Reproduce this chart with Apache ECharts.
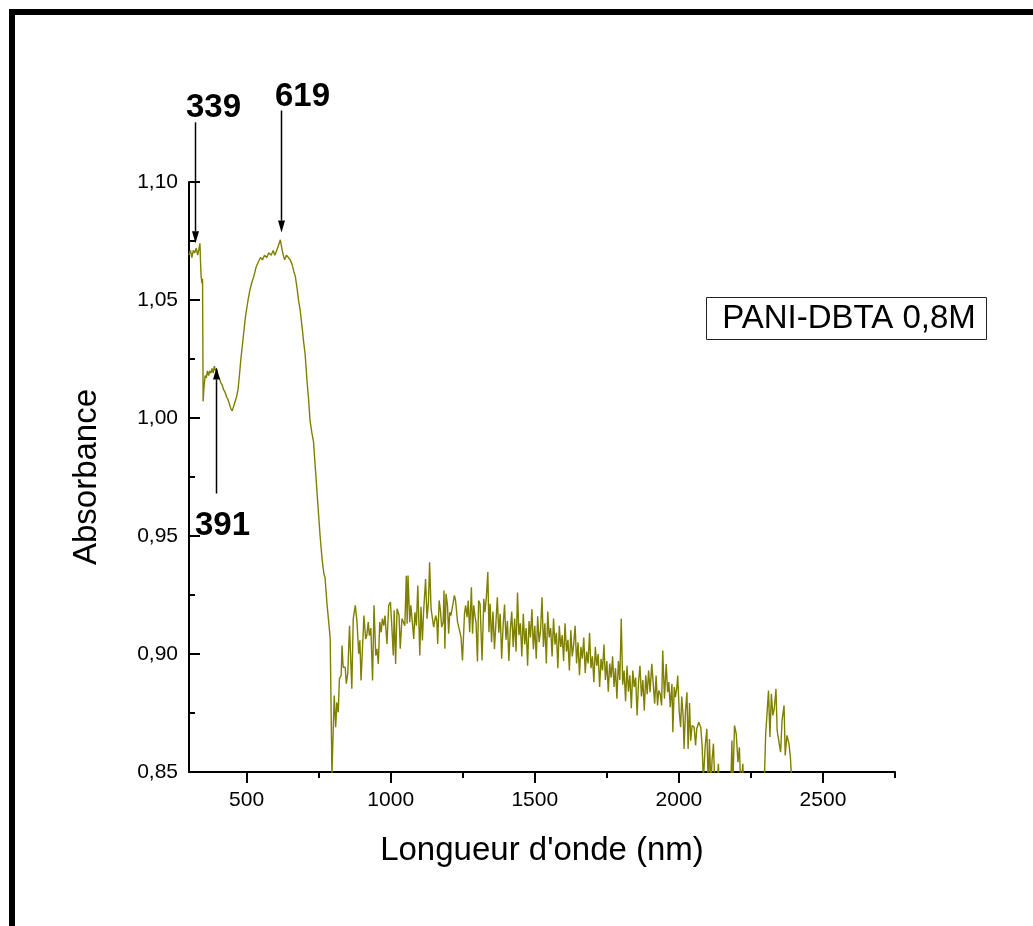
<!DOCTYPE html>
<html>
<head>
<meta charset="utf-8">
<script src="https://cdn.jsdelivr.net/npm/echarts@6/dist/echarts.min.js"></script>
<style>
html,body{margin:0;padding:0;background:#fff;}
#chart{width:1033px;height:926px;}
</style>
</head>
<body>
<div id="chart"></div>
<script>
// ---- data (wavelength nm, absorbance) ----
const smoothPart = [
[300,1.069],[305,1.071],[310,1.068],[315,1.071],[320,1.070],[325,1.072],[330,1.069],[335,1.072],[338,1.074],[340,1.066],
[342,1.060],[345,1.057],[347,1.059],[349,1.007],[352,1.013],[356,1.018],[360,1.017],[364,1.020],[368,1.018],[372,1.020],
[376,1.019],[380,1.021],[384,1.019],[388,1.022],[392,1.020],[396,1.021],[400,1.018],[405,1.017],[410,1.015],[415,1.014],
[420,1.012],[425,1.011],[430,1.009],[435,1.008],[440,1.006],[445,1.004],[450,1.003],[455,1.005],[460,1.007],[465,1.009],
[470,1.012],[475,1.018],[480,1.025],[488,1.034],[496,1.043],[505,1.050],[511,1.054],[517,1.057],[525,1.060],[533,1.064],
[540,1.066],[548,1.068],[555,1.067],[562,1.069],[570,1.068],[577,1.070],[585,1.069],[592,1.071],[598,1.069],[604,1.071],
[610,1.073],[617,1.0755],[622,1.072],[627,1.069],[632,1.067],[638,1.069],[645,1.068],[651,1.067],[658,1.065],[664,1.062],
[669,1.060],[675,1.055],[680,1.050],[686,1.0455],[693,1.038],[698,1.032],[703,1.027],[710,1.015],[715,1.008],[720,0.999],
[726,0.994],[732,0.990],[740,0.976],[748,0.962],[755,0.950],[762,0.940],[768,0.934],[772,0.9325],[779,0.921],[786,0.912],
[790,0.9066],[796,0.849]
];
const noisyPartA = [
[804,0.8824],[809,0.869],[813,0.8795],[818,0.8753],[822,0.8896],[828,0.8909],[831,0.9036],[835,0.8944],[842,0.8944],[846,0.8874],
[851,0.8918],[857,0.912],[865,0.8853],[870,0.915],[877,0.9206],[883,0.9135],[889,0.9001],[893,0.9058],[897,0.8888],[904,0.9078],
[907,0.9163],[913,0.9064],[917,0.9078],[922,0.9135],[926,0.9078],[931,0.911],[937,0.8888],[942,0.9206],[948,0.8994],[952,0.9022],
[957,0.8958],[962,0.9135],[967,0.9092],[971,0.915],[976,0.912],[980,0.9163],[987,0.9043],[993,0.9206],[999,0.922],[1003,0.9135],
[1009,0.8994],[1012,0.9185],[1017,0.8958],[1022,0.9192],[1029,0.9163],[1033,0.9022],[1039,0.915],[1044,0.9156],[1049,0.912],[1054,0.9332],
[1057,0.9128],[1060,0.9333],[1066,0.9135],[1070,0.9206],[1075,0.9135],[1080,0.9064],[1084,0.9177],[1089,0.912],[1094,0.929],[1097,0.9283],
[1101,0.8994],[1105,0.920],[1110,0.9057],[1114,0.9177],[1121,0.9318],[1126,0.915],[1131,0.922],[1135,0.9389],[1140,0.9192],[1144,0.9185],
[1149,0.9114],[1156,0.9163],[1160,0.9142],[1163,0.9043],[1168,0.9227],[1172,0.9192],[1177,0.9114],[1182,0.9135],[1185,0.9269],[1188,0.9022],
[1192,0.9255],[1197,0.9206],[1201,0.9086],[1205,0.9177],[1209,0.9163],[1215,0.917],[1221,0.9248],[1225,0.9227],[1232,0.9135],[1239,0.9099],
[1244,0.9071],[1249,0.8973],[1256,0.917],[1260,0.9206],[1265,0.9156],[1269,0.9227],[1274,0.9092],[1280,0.9283],[1284,0.9086],[1288,0.9206],
[1293,0.9156],[1296,0.9135],[1301,0.8968],[1305,0.9227],[1310,0.9213],[1317,0.8973],[1323,0.9234],[1327,0.9177],[1332,0.9241],[1337,0.9347],
[1341,0.9092],[1345,0.9213]
];
const noisyPartB = [
[1350,0.905],[1355,0.918],[1360,0.902],[1365,0.913],[1370,0.924],[1375,0.909],[1380,0.917],[1385,0.898],[1390,0.912],[1395,0.921],
[1400,0.906],[1405,0.914],[1410,0.897],[1415,0.910],[1420,0.918],[1425,0.903],[1430,0.915],[1435,0.901],[1440,0.926],[1445,0.908],
[1450,0.913],[1455,0.899],[1460,0.917],[1465,0.904],[1470,0.911],[1475,0.895],[1480,0.914],[1485,0.907],[1490,0.919],[1495,0.902],
[1500,0.912],[1505,0.898],[1510,0.916],[1515,0.905],[1520,0.910],[1525,0.924],[1530,0.903],[1535,0.913],[1540,0.896],[1545,0.918],
[1550,0.907],[1555,0.911],[1560,0.899],[1565,0.915],[1570,0.904],[1575,0.909],[1580,0.894],[1585,0.912],[1590,0.903],[1595,0.908],
[1600,0.897],[1605,0.913],[1610,0.901],[1615,0.906],[1620,0.893],[1625,0.910],[1630,0.899],[1635,0.904],[1640,0.912],[1645,0.896],
[1650,0.905],[1655,0.891],[1660,0.903],[1665,0.898],[1670,0.907],[1675,0.892],[1680,0.901],[1685,0.896],[1690,0.909],[1695,0.894],
[1700,0.899],[1705,0.888],[1710,0.903],[1715,0.895],[1720,0.900],[1725,0.886],[1730,0.898],[1735,0.893],[1740,0.904],[1745,0.889],
[1750,0.897],[1755,0.884],[1760,0.896],[1765,0.890],[1770,0.899],[1775,0.886],[1780,0.894],[1785,0.881],[1790,0.897],[1795,0.889],
[1800,0.915],[1805,0.887],[1810,0.893],[1815,0.880],[1820,0.895],[1825,0.884],[1830,0.891],[1835,0.877],[1840,0.893],[1845,0.886],
[1850,0.890],[1855,0.874],[1860,0.888],[1865,0.895],[1870,0.882],[1875,0.889],[1880,0.876],[1885,0.891],[1890,0.883],[1895,0.893]
];
const noisyPartC = [
[1900,0.8838],[1906,0.8958],[1912,0.8958],[1916,0.8789],[1921,0.8909],[1926,0.8782],[1930,0.8845],[1935,0.8831],[1940,0.8782],[1944,0.9015],
[1950,0.881],[1956,0.8958],[1961,0.8838],[1965,0.8881],[1970,0.8775],[1976,0.8874],[1979,0.8669],[1984,0.886],[1988,0.8817],[1993,0.886],
[1996,0.8909],[2001,0.876],[2006,0.869],[2010,0.882],[2015,0.8732],[2018,0.8598],[2023,0.876],[2028,0.8838],[2032,0.8598],[2037,0.8792],
[2041,0.8633],[2046,0.8697],[2053,0.869],[2058,0.8612],[2062,0.8683],[2069,0.8711],[2076,0.869],[2081,0.8605],[2085,0.846],[2091,0.8605],
[2097,0.8683],[2102,0.843],[2106,0.864],[2111,0.843],[2115,0.8549],[2120,0.862],[2125,0.843],[2129,0.838],[2137,0.8535],[2143,0.838],
[2153,0.833],[2165,0.830],[2178,0.833],[2184,0.8633],[2187,0.843],[2193,0.8697],[2199,0.8662],[2205,0.8542],[2210,0.8605],[2215,0.843],
[2222,0.8535],[2227,0.833],[2245,0.828],[2265,0.830],[2285,0.829],[2296,0.843],[2301,0.8655],[2305,0.8662],[2311,0.8845],[2316,0.8648],
[2321,0.8831],[2326,0.874],[2331,0.8768],[2337,0.8852],[2341,0.8676],[2347,0.8669],[2353,0.8584],[2358,0.8718],[2365,0.8782],[2369,0.857],
[2375,0.8655],[2382,0.862],[2387,0.8563],[2393,0.843],[2398,0.830]
];
const xMajorTicks = [500, 1000, 1500, 2000, 2500];
const xMinorTicks = [750, 1250, 1750, 2250, 2750];
const peakLabels = ['339', '619', '391'];
const peakX = [321, 619, 393];
const peakY = [1.074, 1.0786, 1.0214];
const legendText = 'PANI-DBTA 0,8M';

const spectrum = smoothPart.concat(noisyPartA, noisyPartB, noisyPartC);
const FONT = '"Liberation Sans", Arial, sans-serif';

const chart = echarts.init(document.getElementById('chart'), null, {renderer: 'canvas'});
const axisBase = {
  type: 'value', min: 300, max: 2750, position: 'bottom',
  splitLine: {show: false}
};
chart.setOption({
  animation: false,
  backgroundColor: '#fff',
  grid: {left: 189, right: 138, top: 182, bottom: 154, containLabel: false},
  xAxis: [
    Object.assign({}, axisBase, {
      name: "Longueur d'onde (nm)", nameLocation: 'middle', nameGap: 62,
      nameTextStyle: {fontSize: 33, color: '#000', fontFamily: FONT},
      axisLine: {show: true, lineStyle: {color: '#000', width: 2}},
      axisTick: {show: true, inside: false, length: 11, customValues: xMajorTicks, lineStyle: {color: '#000', width: 2}},
      axisLabel: {show: true, customValues: xMajorTicks, fontSize: 21, color: '#000', fontFamily: FONT, margin: 18,
        formatter: v => String(Math.round(v))}
    }),
    Object.assign({}, axisBase, {
      axisLine: {show: false},
      axisTick: {show: true, inside: false, length: 6, customValues: xMinorTicks, lineStyle: {color: '#000', width: 2}},
      axisLabel: {show: false}
    })
  ],
  yAxis: {
    type: 'value', min: 0.85, max: 1.10, interval: 0.05,
    name: 'Absorbance', nameLocation: 'middle', nameGap: 86,
    nameTextStyle: {fontSize: 33, color: '#000', fontFamily: FONT},
    splitLine: {show: false},
    axisLine: {show: true, lineStyle: {color: '#000', width: 2}},
    axisTick: {show: true, inside: true, length: 11, lineStyle: {color: '#000', width: 2}},
    minorTick: {show: true, splitNumber: 2, length: 6, lineStyle: {color: '#000', width: 2}},
    axisLabel: {fontSize: 21, color: '#000', fontFamily: FONT, margin: 11,
      formatter: v => v.toFixed(2).replace('.', ',')}
  },
  series: [{
    type: 'line', xAxisIndex: 0, yAxisIndex: 0,
    data: spectrum, showSymbol: false, symbol: 'none', clip: true,
    lineStyle: {color: '#808000', width: 1.4}, itemStyle: {color: '#808000'}
  }]
});

// annotations: arrows and labels positioned via the chart's own scales
const arrowLayout = [
  {len: 121, dir: 1, dx: 18, dy: -135},
  {len: 122, dir: 1, dx: 21, dy: -136},
  {len: 126, dir: -1, dx: 6, dy: 158}
];
const graphics = [];
peakLabels.forEach((lab, i) => {
  const p = chart.convertToPixel({seriesIndex: 0}, [peakX[i], peakY[i]]);
  const L = arrowLayout[i];
  const tipX = Math.round(p[0]) + 0.5, tipY = p[1];
  const tailY = tipY - L.dir * L.len;
  const headLen = 12, headW = 3.5;
  graphics.push({type: 'line', shape: {x1: tipX, y1: tailY, x2: tipX, y2: tipY - L.dir * headLen},
    style: {stroke: '#000', lineWidth: 1.5}, z: 50});
  graphics.push({type: 'polygon', shape: {points: [[tipX, tipY], [tipX - headW, tipY - L.dir * headLen], [tipX + headW, tipY - L.dir * headLen]]},
    style: {fill: '#000'}, z: 50});
  graphics.push({type: 'text', x: tipX + L.dx, y: tipY + L.dy,
    style: {text: lab, fontSize: 33, fontWeight: 'bold', fontFamily: FONT, fill: '#000', align: 'center', verticalAlign: 'middle'}, z: 50});
});
// legend box
graphics.push({type: 'rect', shape: {x: 706.5, y: 297.5, width: 280, height: 42},
  style: {fill: '#fff', stroke: '#222', lineWidth: 1}, z: 40});
graphics.push({type: 'text', x: 849, y: 319,
  style: {text: legendText, fontSize: 33, fontFamily: FONT, fill: '#000', align: 'center', verticalAlign: 'middle'}, z: 41});
// outer frame
graphics.push({type: 'rect', shape: {x: 12, y: 12, width: 1100, height: 1000},
  style: {fill: 'none', stroke: '#000', lineWidth: 6}, z: 60});
chart.setOption({graphic: graphics});
</script>
</body>
</html>
